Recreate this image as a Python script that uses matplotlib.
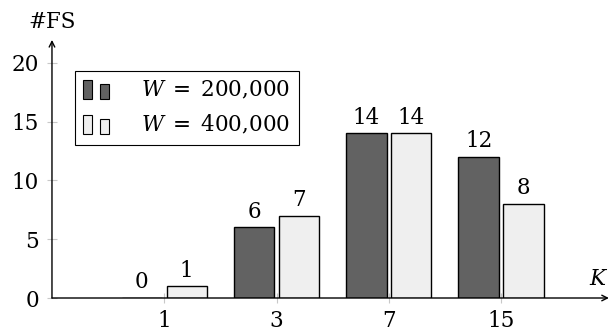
import numpy as np
import matplotlib
matplotlib.use("Agg")
from matplotlib import pyplot as plt
from matplotlib.legend_handler import HandlerBase
from matplotlib.patches import Rectangle

plt.rcParams['font.family'] = ['DejaVu Serif']
plt.rcParams['mathtext.fontset'] = 'dejavuserif'

k_labels = ['1', '3', '7', '15']
fs_200k = [0, 6, 14, 12]
fs_400k = [1, 7, 14, 8]
series_names = [r'$W\;=\;200{,}000$', r'$W\;=\;400{,}000$']

dark = '#626262'
light = '#efefef'
tick_grey = '#c8c8c8'
fsz = 15.5


class TwoBarHandler(HandlerBase):
    # legend key drawn as two small bars, like a ybar legend
    def create_artists(self, legend, orig_handle, xdescent, ydescent,
                       width, height, fontsize, trans):
        fc = orig_handle.get_facecolor()
        w = width * 0.37
        bars = [
            Rectangle((-xdescent, -ydescent), w, height),
            Rectangle((-xdescent + width * 0.67, -ydescent), w, height * 0.76),
        ]
        for b in bars:
            b.set_facecolor(fc)
            b.set_edgecolor('black')
            b.set_linewidth(0.8)
            b.set_transform(trans)
        return bars


fig = plt.figure(figsize=(6.1, 3.33), dpi=100)
ax = fig.add_axes([0.0852, 0.1051, 0.913, 0.775])

x = np.arange(len(k_labels))
offset = 0.2
width = 0.36
b1 = ax.bar(x - offset, fs_200k, width, color=dark, edgecolor='black', linewidth=1, zorder=2)
b2 = ax.bar(x + offset, fs_400k, width, color=light, edgecolor='black', linewidth=1, zorder=2)

# value on top of every bar
for xs, vals in ((x - offset, fs_200k), (x + offset, fs_400k)):
    for xi, v in zip(xs, vals):
        ax.annotate(str(v), (xi, v), xytext=(0, 7), textcoords='offset points',
                    ha='center', va='baseline', fontsize=fsz)

ax.set_xlim(-1, 3.96)
ax.set_ylim(0, 21.96)
ax.set_xticks(x)
ax.set_xticklabels(k_labels)
ax.set_yticks([0, 5, 10, 15, 20])
ax.tick_params(axis='both', direction='inout', length=7, width=0.8,
               color=tick_grey, labelsize=fsz, pad=5)
ax.tick_params(axis='y', pad=6)

for s in ax.spines.values():
    s.set_visible(False)

# axis lines with arrow tips
arrow = dict(arrowstyle='->', color='black', lw=1, shrinkA=0, shrinkB=0)
ax.annotate('', xy=(1.0, 0), xytext=(0, 0), xycoords='axes fraction',
            arrowprops=arrow, annotation_clip=False)
ax.annotate('', xy=(0, 1.0), xytext=(0, 0), xycoords='axes fraction',
            arrowprops=arrow, annotation_clip=False)

ax.text(0, 1.0 + 18 / 258, '#FS', transform=ax.transAxes, ha='center',
        va='center', fontsize=fsz)
ax.text(1.0, 0.03, '$K$', transform=ax.transAxes, ha='right',
        va='bottom', fontsize=fsz)

leg = ax.legend([b1.patches[0], b2.patches[0]], series_names,
                handler_map={Rectangle: TwoBarHandler()},
                loc='upper left', bbox_to_anchor=(0.041, 0.88), borderaxespad=0,
                fontsize=fsz, fancybox=False, framealpha=1, edgecolor='black',
                handlelength=1.13, handleheight=1.0, handletextpad=1.55,
                labelspacing=0.55, borderpad=0.4)
leg.get_frame().set_linewidth(0.8)

fig.savefig('out.png', dpi=100)
